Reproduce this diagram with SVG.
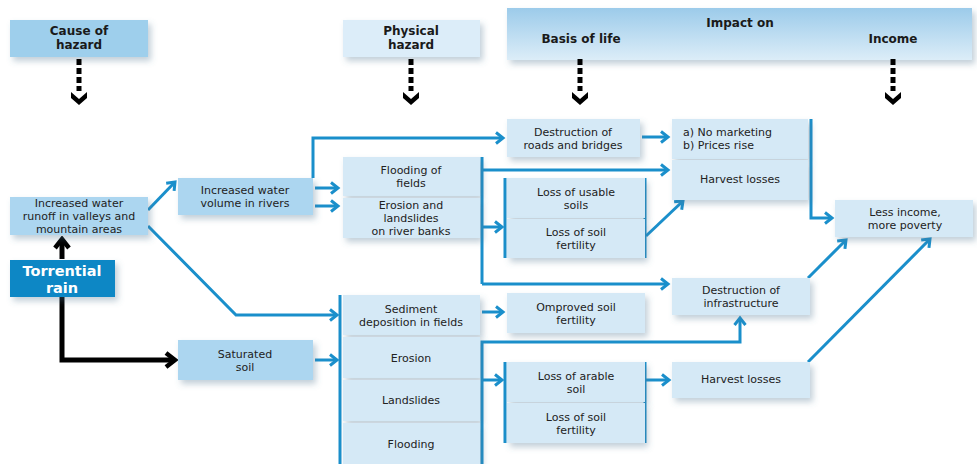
<svg xmlns="http://www.w3.org/2000/svg" width="977" height="464" viewBox="0 0 977 464">
<style>
.t{font-family:"DejaVu Sans","Liberation Sans",sans-serif;font-size:11px;fill:#222;text-anchor:middle}
.h{font-family:"DejaVu Sans","Liberation Sans",sans-serif;font-size:12px;font-weight:bold;fill:#1a1a1a;text-anchor:middle}
.m{fill:#acd6f0}
.l{fill:#d5e9f6}
.c{fill:none;stroke:#1a8fcb;stroke-width:3}
.k{fill:none;stroke:#000;stroke-width:5}
.d{fill:none;stroke:#000;stroke-width:5;stroke-dasharray:6,3}
</style>
<defs>
<filter id="sh" x="-10%" y="-20%" width="130%" height="160%">
<feDropShadow dx="3" dy="4" stdDeviation="3" flood-color="#4f7590" flood-opacity="0.35"/>
</filter>
<linearGradient id="g" x1="0" y1="0" x2="0" y2="1">
<stop offset="0" stop-color="#9ccbea"/>
<stop offset="1" stop-color="#dcedf8"/>
</linearGradient>
<marker id="ab" markerWidth="12" markerHeight="14" refX="9" refY="7" orient="auto" markerUnits="userSpaceOnUse">
<path d="M2,1.5 L9,7 L2,12.5" fill="none" stroke="#1a8fcb" stroke-width="3"/>
</marker>
<marker id="ak" markerWidth="14" markerHeight="18" refX="11" refY="9" orient="auto" markerUnits="userSpaceOnUse">
<path d="M2,2 L11,9 L2,16" fill="none" stroke="#000" stroke-width="4.5"/>
</marker>
</defs>
<rect width="977" height="464" fill="#fff"/>

<g id="header-cause">
<rect x="10" y="20" width="138" height="37" fill="#9ecfec" filter="url(#sh)"/>
<text class="h" x="79" y="35">Cause of</text>
<text class="h" x="79" y="49">hazard</text>
</g>
<g id="header-physical">
<rect x="343" y="20" width="137" height="37" fill="#dcedf9" filter="url(#sh)"/>
<text class="h" x="411" y="35">Physical</text>
<text class="h" x="411" y="49">hazard</text>
</g>
<g id="header-impact">
<rect x="507" y="8" width="465" height="52" fill="url(#g)" filter="url(#sh)"/>
<text class="h" x="740" y="27">Impact on</text>
<text class="h" x="581" y="43">Basis of life</text>
<text class="h" x="893" y="43">Income</text>
</g>

<g id="header-arrows">
<line class="d" x1="79" y1="59" x2="79" y2="91"/>
<path d="M71,92 L79,99 L87,92 L87,98 L79,105 L71,98 Z" fill="#000"/>
<line class="d" x1="411" y1="59" x2="411" y2="91"/>
<path d="M403,92 L411,99 L419,92 L419,98 L411,105 L403,98 Z" fill="#000"/>
<line class="d" x1="580" y1="59" x2="580" y2="91"/>
<path d="M572,92 L580,99 L588,92 L588,98 L580,105 L572,98 Z" fill="#000"/>
<line class="d" x1="893" y1="59" x2="893" y2="91"/>
<path d="M885,92 L893,99 L901,92 L901,98 L893,105 L885,98 Z" fill="#000"/>
</g>

<g id="connectors">
<path class="k" d="M62,259 L62,239" marker-end="url(#ak)"/>
<path class="k" d="M62,297 L62,360 L175,360" marker-end="url(#ak)"/>
<path class="c" d="M148,210 L175,182" marker-end="url(#ab)"/>
<path class="c" d="M148,226 L236,315 L337,315" marker-end="url(#ab)"/>
<path class="c" d="M315,188 L338,188" marker-end="url(#ab)"/>
<path class="c" d="M315,206 L338,206" marker-end="url(#ab)"/>
<path class="c" d="M313,178 L313,138 L503,138" marker-end="url(#ab)"/>
<path class="c" d="M315,360 L337,360" marker-end="url(#ab)"/>
<path class="c" d="M340,295 L340,464"/>
<path class="c" d="M482,157 L482,284"/>
<path class="c" d="M482,170 L668,170" marker-end="url(#ab)"/>
<path class="c" d="M482,284 L668,284" marker-end="url(#ab)"/>
<path class="c" d="M482,227 L502,227" marker-end="url(#ab)"/>
<path class="c" d="M505,178 L505,258"/>
<path class="c" d="M645,178 L645,258"/>
<path class="c" d="M646,236 L683,201" marker-end="url(#ab)"/>
<path class="c" d="M642,137 L668,137" marker-end="url(#ab)"/>
<path class="c" d="M811,119 L811,218 L832,218" marker-end="url(#ab)"/>
<path class="c" d="M808,278 L846,240" marker-end="url(#ab)"/>
<path class="c" d="M808,362 L930,239" marker-end="url(#ab)"/>
<path class="c" d="M482,312 L503,312" marker-end="url(#ab)"/>
<path class="c" d="M482,464 L482,342 L740,342 L740,318" marker-end="url(#ab)"/>
<path class="c" d="M482,380 L502,380" marker-end="url(#ab)"/>
<path class="c" d="M505,362 L505,443"/>
<path class="c" d="M645,362 L645,443"/>
<path class="c" d="M646,380 L669,380" marker-end="url(#ab)"/>
</g>

<g id="runoff">
<rect class="m" x="10" y="197" width="138" height="38" filter="url(#sh)"/>
<text class="t" x="79" y="207">Increased water</text>
<text class="t" x="79" y="220">runoff in valleys and</text>
<text class="t" x="79" y="233">mountain areas</text>
</g>
<g id="torrential-rain">
<rect x="10" y="260" width="105" height="37" fill="#0c87c5" filter="url(#sh)"/>
<text class="h" x="62" y="276" style="fill:#fff;font-size:14.5px">Torrential</text>
<text class="h" x="62" y="293" style="fill:#fff;font-size:14.5px">rain</text>
</g>
<g id="water-volume">
<rect class="m" x="178" y="178" width="135" height="37" filter="url(#sh)"/>
<text class="t" x="245" y="194">Increased water</text>
<text class="t" x="245" y="207">volume in rivers</text>
</g>
<g id="saturated-soil">
<rect class="m" x="178" y="340" width="135" height="40" filter="url(#sh)"/>
<text class="t" x="245" y="357.5">Saturated</text>
<text class="t" x="245" y="370.5">soil</text>
</g>
<g id="flooding-fields">
<rect class="l" x="343" y="157" width="137" height="39" filter="url(#sh)"/>
<text class="t" x="411" y="174">Flooding of</text>
<text class="t" x="411" y="187">fields</text>
</g>
<g id="erosion-banks">
<rect class="l" x="343" y="198" width="137" height="40" filter="url(#sh)"/>
<text class="t" x="411" y="209">Erosion and</text>
<text class="t" x="411" y="222">landslides</text>
<text class="t" x="411" y="235">on river banks</text>
</g>
<g id="roads-bridges">
<rect class="l" x="507" y="119" width="133" height="38" filter="url(#sh)"/>
<text class="t" x="573" y="135.5">Destruction of</text>
<text class="t" x="573" y="148.5">roads and bridges</text>
</g>
<g id="loss-usable">
<rect class="l" x="507" y="178" width="138" height="40" filter="url(#sh)"/>
<text class="t" x="576" y="195.5">Loss of usable</text>
<text class="t" x="576" y="208.5">soils</text>
</g>
<g id="loss-fertility-1">
<rect class="l" x="507" y="219" width="138" height="39" filter="url(#sh)"/>
<text class="t" x="576" y="236">Loss of soil</text>
<text class="t" x="576" y="249">fertility</text>
</g>
<g id="marketing">
<rect class="l" x="672" y="119" width="136" height="40" filter="url(#sh)"/>
<text class="t" x="683" y="136" style="text-anchor:start">a) No marketing</text>
<text class="t" x="683" y="149" style="text-anchor:start">b) Prices rise</text>
</g>
<g id="harvest-1">
<rect class="l" x="672" y="160" width="136" height="40" filter="url(#sh)"/>
<text class="t" x="740" y="183">Harvest losses</text>
</g>
<g id="less-income">
<rect class="l" x="835" y="200" width="138" height="37" filter="url(#sh)"/>
<text class="t" x="905" y="216">Less income,</text>
<text class="t" x="905" y="229">more poverty</text>
</g>
<g id="infrastructure">
<rect class="l" x="672" y="278" width="138" height="37" filter="url(#sh)"/>
<text class="t" x="741" y="294">Destruction of</text>
<text class="t" x="741" y="307">infrastructure</text>
</g>
<g id="harvest-2">
<rect class="l" x="672" y="362" width="138" height="36" filter="url(#sh)"/>
<text class="t" x="741" y="383">Harvest losses</text>
</g>
<g id="sediment">
<rect class="l" x="343" y="295" width="137" height="40" filter="url(#sh)"/>
<text class="t" x="411" y="312.5">Sediment</text>
<text class="t" x="411" y="325.5">deposition in fields</text>
</g>
<g id="improved-fertility">
<rect class="l" x="507" y="293" width="138" height="40" filter="url(#sh)"/>
<text class="t" x="576" y="310.5">Omproved soil</text>
<text class="t" x="576" y="323.5">fertility</text>
</g>
<g id="erosion">
<rect class="l" x="343" y="337" width="137" height="41" filter="url(#sh)"/>
<text class="t" x="411" y="362">Erosion</text>
</g>
<g id="landslides">
<rect class="l" x="343" y="380" width="137" height="41" filter="url(#sh)"/>
<text class="t" x="411" y="404">Landslides</text>
</g>
<g id="flooding">
<rect class="l" x="343" y="423" width="137" height="41" filter="url(#sh)"/>
<text class="t" x="411" y="448">Flooding</text>
</g>
<g id="loss-arable">
<rect class="l" x="507" y="362" width="138" height="40" filter="url(#sh)"/>
<text class="t" x="576" y="379.5">Loss of arable</text>
<text class="t" x="576" y="392.5">soil</text>
</g>
<g id="loss-fertility-2">
<rect class="l" x="507" y="403" width="138" height="40" filter="url(#sh)"/>
<text class="t" x="576" y="420.5">Loss of soil</text>
<text class="t" x="576" y="433.5">fertility</text>
</g>
</svg>
